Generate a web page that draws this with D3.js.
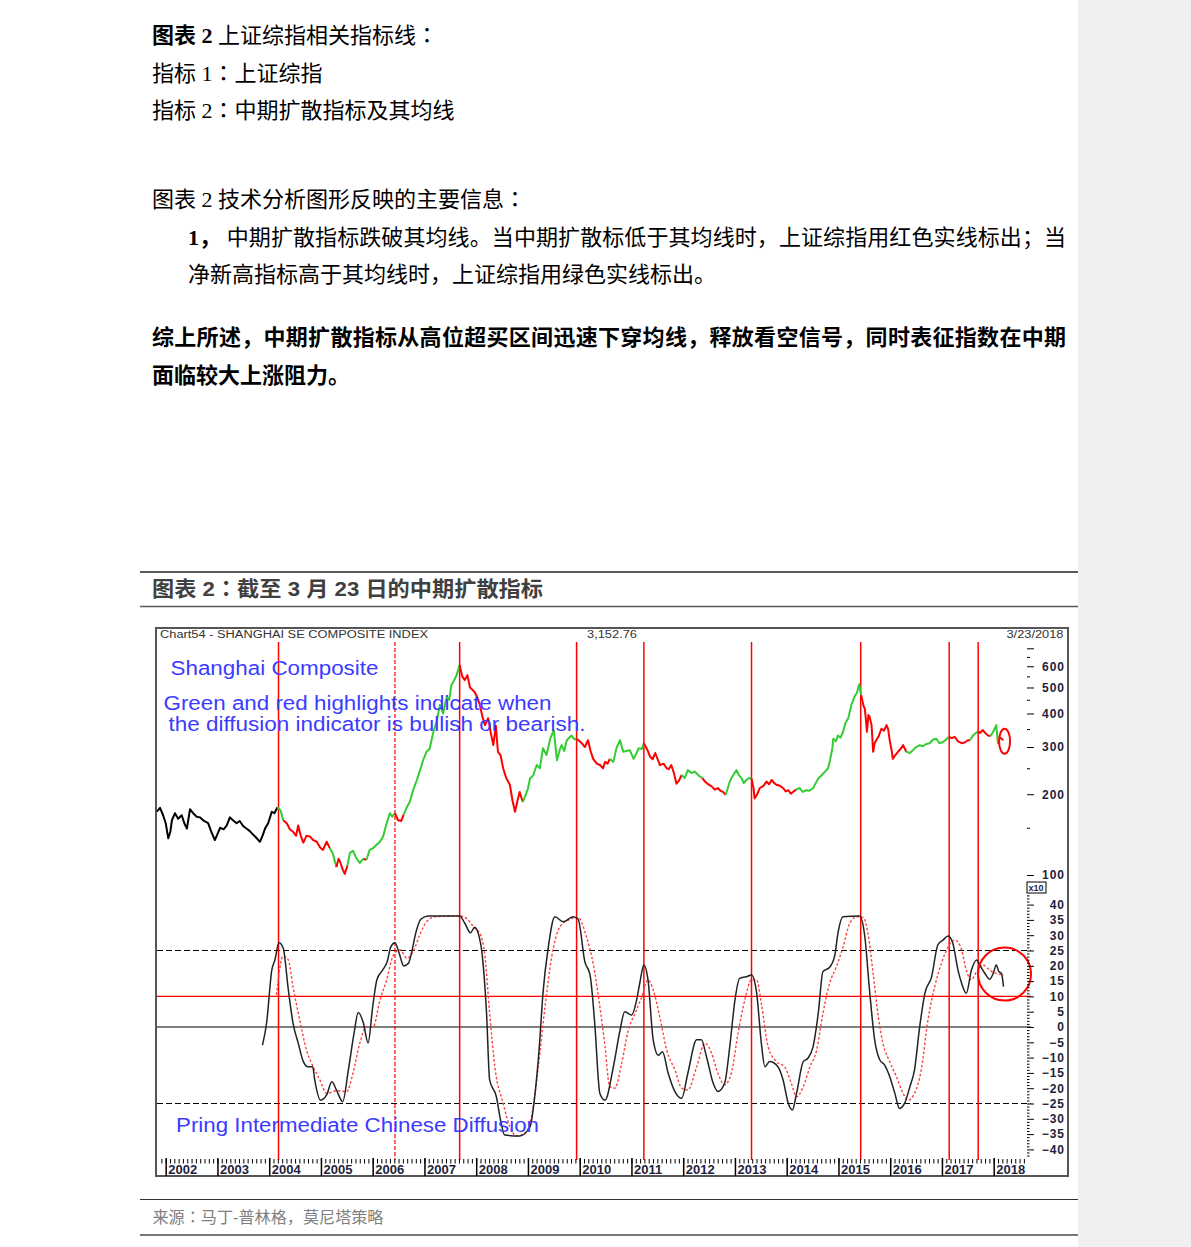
<!DOCTYPE html>
<html><head><meta charset="utf-8">
<script src="https://cdn.jsdelivr.net/npm/d3@7"></script>
<style>
body{margin:0;background:#fff;}
svg{display:block;}
</style></head><body>
<svg id="c" width="1191" height="1247"></svg>
<script>
// ---------------- DATA ----------------
const introTexts = [
  [["图表 2", true], [" 上证综指相关指标线：", false]],
  [["指标 1：上证综指", false]],
  [["指标 2：中期扩散指标及其均线", false]],
  [["图表 2 技术分析图形反映的主要信息：", false]],
  [["1，", true], [" 中期扩散指标跌破其均线。当中期扩散标低于其均线时，上证综指用红色实线标出；当", false]],
  [["净新高指标高于其均线时，上证综指用绿色实线标出。", false]],
  [["综上所述，中期扩散指标从高位超买区间迅速下穿均线，释放看空信号，同时表征指数在中期", true]],
  [["面临较大上涨阻力。", true]]
];
const chartTitle = "图表 2：截至 3 月 23 日的中期扩散指标";
const sourceText = "来源：马丁-普林格，莫尼塔策略";
const headerLeft = "Chart54 - SHANGHAI SE COMPOSITE INDEX";
const headerMid = "3,152.76";
const headerRight = "3/23/2018";
const noteTitle = "Shanghai Composite";
const noteLines = ["Green and red highlights indicate when", " the diffusion indicator is bullish or bearish."];
const lowerTitle = "Pring Intermediate Chinese Diffusion";

// Shanghai Composite (index points), [decimal year, value]
const price = [
[2001.83,1722],[2001.89,1780],[2001.95,1670],[2002.00,1560],[2002.05,1370],[2002.09,1450],[2002.12,1600],[2002.18,1700],
[2002.24,1620],[2002.31,1670],[2002.36,1560],[2002.41,1490],[2002.47,1760],[2002.53,1700],[2002.60,1650],[2002.66,1640],
[2002.74,1590],[2002.82,1560],[2002.88,1450],[2002.95,1350],[2003.00,1420],[2003.05,1500],[2003.12,1480],[2003.18,1530],
[2003.24,1640],[2003.30,1600],[2003.37,1560],[2003.43,1590],[2003.50,1520],[2003.56,1490],[2003.62,1460],[2003.68,1420],
[2003.76,1370],[2003.82,1330],[2003.87,1400],[2003.92,1490],[2003.98,1560],[2004.05,1720],[2004.10,1700],[2004.16,1790],
[2004.22,1740],[2004.27,1600],[2004.34,1560],[2004.40,1480],[2004.46,1450],[2004.52,1400],[2004.56,1530],[2004.61,1400],
[2004.66,1320],[2004.72,1400],[2004.79,1390],[2004.85,1350],[2004.92,1330],[2004.98,1270],[2005.04,1240],[2005.11,1330],
[2005.17,1260],[2005.23,1200],[2005.30,1070],[2005.34,1150],[2005.37,1120],[2005.42,1050],[2005.46,1010],[2005.51,1080],
[2005.56,1210],[2005.62,1230],[2005.68,1160],[2005.75,1110],[2005.82,1150],[2005.88,1140],[2005.94,1240],[2006.01,1260],
[2006.08,1300],[2006.14,1330],[2006.20,1390],[2006.27,1560],[2006.33,1700],[2006.38,1650],[2006.43,1700],[2006.49,1600],
[2006.55,1590],[2006.60,1680],[2006.66,1790],[2006.72,1880],[2006.78,2070],[2006.85,2250],[2006.91,2440],[2006.98,2700],
[2007.04,2880],[2007.10,2950],[2007.17,3400],[2007.23,3700],[2007.30,4310],[2007.36,4000],[2007.43,4620],[2007.48,4500],
[2007.52,5110],[2007.57,5300],[2007.62,5560],[2007.68,6060],[2007.73,5500],[2007.78,5330],[2007.83,5560],[2007.88,5000],
[2007.97,4810],[2008.02,4600],[2008.07,4310],[2008.12,3900],[2008.17,3620],[2008.23,3840],[2008.28,3400],[2008.33,3050],
[2008.38,3600],[2008.42,2880],[2008.47,2800],[2008.52,2500],[2008.58,2300],[2008.65,2170],[2008.70,1900],[2008.75,1720],
[2008.80,1900],[2008.84,2040],[2008.90,1870],[2008.94,1950],[2009.00,2100],[2009.04,2290],[2009.10,2350],[2009.17,2570],
[2009.23,2500],[2009.29,2970],[2009.36,2800],[2009.43,3220],[2009.50,3470],[2009.56,2680],[2009.62,2950],[2009.65,3050],
[2009.70,2900],[2009.75,3180],[2009.84,3310],[2009.90,3200],[2009.94,3220],[2010.00,3150],[2010.04,3100],[2010.10,3000],
[2010.16,3180],[2010.21,2900],[2010.26,2710],[2010.33,2600],[2010.39,2570],[2010.45,2500],[2010.49,2640],[2010.54,2600],
[2010.58,2710],[2010.65,2640],[2010.71,2970],[2010.78,3180],[2010.84,2880],[2010.90,2900],[2010.97,2920],[2011.04,2710],
[2011.10,2850],[2011.14,2970],[2011.20,2950],[2011.24,3100],[2011.30,2950],[2011.36,2760],[2011.41,2700],[2011.46,2850],
[2011.55,2570],[2011.62,2600],[2011.68,2500],[2011.72,2480],[2011.77,2570],[2011.82,2400],[2011.87,2190],[2011.92,2250],
[2011.97,2360],[2012.03,2300],[2012.09,2460],[2012.16,2400],[2012.22,2430],[2012.27,2380],[2012.32,2330],[2012.37,2300],
[2012.42,2230],[2012.48,2180],[2012.55,2140],[2012.61,2080],[2012.67,2110],[2012.72,2060],[2012.77,2040],[2012.82,1990],
[2012.86,2100],[2012.90,2230],[2012.96,2350],[2013.03,2460],[2013.08,2350],[2013.13,2290],[2013.17,2200],[2013.22,2260],
[2013.27,2300],[2013.32,2290],[2013.36,2100],[2013.38,1930],[2013.43,2000],[2013.48,2110],[2013.55,2150],[2013.61,2230],
[2013.66,2180],[2013.71,2260],[2013.76,2200],[2013.80,2170],[2013.87,2150],[2013.93,2110],[2013.98,2050],[2014.03,2070],
[2014.08,2010],[2014.12,2040],[2014.18,2080],[2014.25,2110],[2014.31,2040],[2014.38,2070],[2014.44,2060],[2014.51,2110],
[2014.56,2200],[2014.61,2290],[2014.67,2350],[2014.74,2430],[2014.80,2500],[2014.83,2640],[2014.88,2950],[2014.90,3220],
[2014.95,3150],[2014.99,3310],[2015.04,3250],[2015.09,3420],[2015.14,3700],[2015.19,3840],[2015.25,4310],[2015.31,4620],
[2015.36,4800],[2015.40,5140],[2015.44,4680],[2015.48,4300],[2015.51,4160],[2015.53,3800],[2015.55,3420],[2015.58,3950],
[2015.60,3900],[2015.64,3620],[2015.67,2880],[2015.70,3100],[2015.73,3180],[2015.78,3300],[2015.83,3510],[2015.88,3450],
[2015.93,3620],[2015.96,3500],[2015.99,3180],[2016.03,2900],[2016.05,2710],[2016.10,2800],[2016.15,2880],[2016.20,2950],
[2016.25,3050],[2016.31,2880],[2016.38,2850],[2016.44,2920],[2016.50,3000],[2016.57,3050],[2016.63,3020],[2016.70,3080],
[2016.76,3100],[2016.83,3200],[2016.89,3220],[2016.95,3100],[2017.02,3130],[2017.08,3200],[2017.13,3270],[2017.19,3240],
[2017.25,3270],[2017.31,3150],[2017.38,3100],[2017.44,3120],[2017.50,3180],[2017.54,3180],[2017.60,3310],[2017.65,3380],
[2017.69,3420],[2017.74,3390],[2017.79,3470],[2017.84,3380],[2017.89,3310],[2017.94,3300],[2017.99,3420],[2018.05,3620],
[2018.08,3100],[2018.12,3260],[2018.15,3220],[2018.19,3180]
];

// bullish (g) / bearish (r) periods of the diffusion indicator
const regimes = [
[2004.16,2004.29,"g"],[2004.29,2005.18,"r"],[2005.18,2005.27,"g"],[2005.27,2005.52,"r"],[2005.52,2005.79,"g"],
[2005.79,2005.91,"r"],[2005.91,2006.43,"g"],[2006.43,2006.62,"r"],[2006.62,2007.68,"g"],[2007.68,2008.90,"r"],
[2008.90,2009.94,"g"],[2009.94,2010.58,"r"],[2010.58,2011.24,"g"],[2011.24,2011.96,"r"],[2011.96,2012.38,"g"],
[2012.38,2012.84,"r"],[2012.84,2013.32,"g"],[2013.32,2014.19,"r"],[2014.19,2015.43,"g"],[2015.43,2016.31,"r"],
[2016.31,2017.14,"g"],[2017.14,2017.57,"r"],[2017.57,2017.69,"g"],[2017.69,2017.95,"r"],[2017.95,2018.13,"g"],
[2018.13,2018.30,"r"]
];

// diffusion indicator (black) and its moving average (red dotted)
const indicator = [
[2003.87,-5.9],[2003.95,1.3],[2004.05,18.6],[2004.11,21.9],[2004.19,27.5],[2004.27,25.8],[2004.37,12.1],[2004.46,1.3],
[2004.56,-5.2],[2004.66,-11.3],[2004.75,-13],[2004.84,-13],[2004.88,-17.3],[2004.99,-23.9],[2005.11,-22.2],[2005.21,-17.9],
[2005.30,-20.6],[2005.42,-24.4],[2005.53,-14],[2005.64,-2],[2005.72,4.7],[2005.82,1.3],[2005.91,-5.2],[2006.00,6.6],
[2006.08,15.4],[2006.19,18.6],[2006.28,21.3],[2006.35,26.2],[2006.43,27.5],[2006.51,24.2],[2006.60,19.9],[2006.69,20.8],
[2006.75,24.2],[2006.83,30.6],[2006.93,35.2],[2007.07,36.3],[2007.68,36.3],[2007.78,33.9],[2007.89,30.8],[2007.97,32.6],
[2008.04,30.6],[2008.12,23],[2008.20,4.5],[2008.26,-17.3],[2008.39,-22.8],[2008.47,-30.4],[2008.55,-35.3],[2008.84,-35.6],
[2009.04,-32.6],[2009.13,-22.8],[2009.22,-6.4],[2009.29,11],[2009.39,25.7],[2009.52,36],[2009.68,34.4],[2009.87,36],
[2009.97,35.2],[2010.10,21.3],[2010.20,17],[2010.29,1.3],[2010.39,-21.7],[2010.49,-23.9],[2010.65,-13],[2010.78,-1],
[2010.87,5],[2011.00,3.9],[2011.10,8.8],[2011.16,14.3],[2011.24,20.3],[2011.32,15.4],[2011.42,-4.2],[2011.52,-9.2],
[2011.60,-8.1],[2011.71,-15.1],[2011.84,-21.1],[2011.97,-23.3],[2012.09,-15.1],[2012.26,-4.2],[2012.35,-4.2],[2012.45,-9.7],
[2012.58,-18.4],[2012.67,-21.1],[2012.80,-18.4],[2012.90,-6.4],[2013.00,8.8],[2013.09,15.9],[2013.22,16.4],[2013.32,17],
[2013.42,11],[2013.51,-5.3],[2013.58,-13],[2013.67,-11.3],[2013.83,-13],[2013.93,-17.3],[2014.03,-24.9],[2014.11,-27.1],
[2014.19,-21.7],[2014.32,-11.3],[2014.41,-10.2],[2014.51,-6.4],[2014.61,4.5],[2014.70,18.1],[2014.83,19.5],[2014.93,23.5],
[2014.99,30.6],[2015.09,36],[2015.41,36.3],[2015.51,29.5],[2015.60,12.1],[2015.70,-4.2],[2015.80,-10.8],[2015.89,-12.4],
[2015.99,-16.2],[2016.09,-21.7],[2016.18,-26.6],[2016.28,-24.9],[2016.38,-19.5],[2016.47,-14],[2016.57,0.1],[2016.67,11],
[2016.80,16.4],[2016.92,26.8],[2017.02,28.4],[2017.12,29.7],[2017.21,27.4],[2017.31,18.6],[2017.38,14.3],[2017.47,11],
[2017.57,18.6],[2017.67,21.9],[2017.73,20.3],[2017.83,17.5],[2017.92,15.6],[2017.99,17.5],[2018.05,20.3],[2018.10,18.1],
[2018.15,17.5],[2018.19,13.2]
];
const movingAverage = [
[2004.14,10.5],[2004.27,23.2],[2004.37,21.9],[2004.46,13.2],[2004.59,2.3],[2004.72,-7.5],[2004.85,-13],[2004.98,-17.3],
[2005.11,-21.7],[2005.30,-20.8],[2005.50,-21.1],[2005.62,-15.1],[2005.75,-5.3],[2005.88,0.1],[2006.01,0.1],[2006.14,8.8],
[2006.27,15.4],[2006.40,23.5],[2006.53,25.2],[2006.66,22.5],[2006.78,24.6],[2006.91,30.1],[2007.04,34.4],[2007.20,36],
[2007.68,36.3],[2007.81,35.5],[2007.97,32.3],[2008.07,30.6],[2008.17,23],[2008.26,4.5],[2008.36,-13],[2008.52,-24.9],
[2008.65,-32.6],[2008.78,-35.6],[2008.94,-34.7],[2009.07,-29.3],[2009.20,-13],[2009.33,6.6],[2009.46,23],[2009.62,32.8],
[2009.81,35.2],[2009.97,35.8],[2010.13,29.5],[2010.26,20.8],[2010.39,6.6],[2010.49,-6.4],[2010.58,-19.5],[2010.68,-20],
[2010.81,-11.9],[2010.94,-1],[2011.07,4.5],[2011.19,9.4],[2011.32,15.4],[2011.42,12.1],[2011.56,2.3],[2011.68,-7.5],
[2011.84,-14],[2011.97,-20],[2012.09,-20.6],[2012.26,-13],[2012.42,-5.3],[2012.55,-8.6],[2012.67,-15.1],[2012.80,-18.9],
[2012.93,-15.1],[2013.06,-2],[2013.19,8.8],[2013.32,15.4],[2013.42,15.4],[2013.51,7.7],[2013.64,-6.4],[2013.80,-11.3],
[2013.96,-13],[2014.09,-18.4],[2014.19,-22.8],[2014.32,-19.5],[2014.45,-13],[2014.58,-7.5],[2014.70,4.5],[2014.83,14.3],
[2014.96,19.7],[2015.09,26.2],[2015.22,33.9],[2015.35,36],[2015.48,35.8],[2015.57,30.6],[2015.67,17.5],[2015.77,3.4],
[2015.86,-5.3],[2015.99,-11.3],[2016.12,-16.2],[2016.25,-21.7],[2016.34,-23.9],[2016.47,-21.7],[2016.60,-14],[2016.73,2.3],
[2016.86,13.2],[2016.99,20.8],[2017.12,26.2],[2017.25,28.4],[2017.38,25.2],[2017.47,18.6],[2017.57,15.4],[2017.67,18.1],
[2017.79,20.3],[2017.92,18.6],[2018.05,17.5],[2018.19,17]
];

const signalYears = [2004.18, 2007.68, 2009.94, 2011.24, 2013.32, 2015.43, 2017.14, 2017.70];
const dashedSignalYears = [2006.43];
const yearTicks = d3.range(2002, 2019);
const priceTicks = [1000, 2000, 3000, 4000, 5000, 6000, 7000];
const priceMinorTicks = [1500, 2500, 3500, 4500, 5500, 6500];
const indTicks = d3.range(-40, 45, 5);
const indLevels = [25, 10, 0, -25];
const lastPoint = [2018.21, 3152.76];
const lastIndicator = [2018.21, 17.3];

// ---------------- DRAWING ----------------
const W = 1191, H = 1247;
const svg = d3.select("#c");
const cjkSerif = '"Liberation Serif","Noto Sans CJK SC",serif';
const cjkSans = '"Liberation Sans","Noto Sans CJK SC",sans-serif';
const punctFont = '"Noto Sans CJK TC","Noto Sans CJK SC",sans-serif';
const arial = '"Liberation Sans",Arial,sans-serif';

// append a string to a text node, rendering the full-width colon centred
function appendRich(t, str, bold) {
  const re = /(：)/;
  str.split(re).filter(s => s.length).forEach(s => {
    const ts = t.append("tspan").attr("font-weight", bold ? "bold" : "normal").text(s);
    if (re.test(s)) ts.attr("font-family", punctFont);
  });
}

svg.append("rect").attr("x", 1078).attr("y", 0).attr("width", W - 1078).attr("height", H).attr("fill", "#f0f0f0");

// intro paragraph
const introLayout = [
  {x:152, y:43}, {x:152, y:81}, {x:152, y:118}, {x:152, y:207},
  {x:188, y:245, len:878}, {x:188, y:282}, {x:152, y:345, len:914}, {x:152, y:383}
];
introTexts.forEach((parts, i) => {
  const L = introLayout[i];
  const t = svg.append("text").attr("x", L.x).attr("y", L.y)
    .attr("font-family", cjkSerif).attr("font-size", 22).attr("fill", "#000");
  if (L.len) t.attr("textLength", L.len).attr("lengthAdjust", "spacing");
  parts.forEach(p => appendRich(t, p[0], p[1]));
});

// chart title bar
svg.append("line").attr("x1",140).attr("x2",1078).attr("y1",572).attr("y2",572).attr("stroke","#5a5a5a").attr("stroke-width",2);
svg.append("line").attr("x1",140).attr("x2",1078).attr("y1",606.5).attr("y2",606.5).attr("stroke","#5a5a5a").attr("stroke-width",1.5);
const tt = svg.append("text").attr("x",152).attr("y",596).attr("font-family",cjkSans).attr("font-weight","bold")
  .attr("font-size",21).attr("fill","#404040").attr("textLength",391).attr("lengthAdjust","spacingAndGlyphs");
appendRich(tt, chartTitle, true);

// source
svg.append("line").attr("x1",140).attr("x2",1078).attr("y1",1199.5).attr("y2",1199.5).attr("stroke","#333").attr("stroke-width",1);
svg.append("line").attr("x1",140).attr("x2",1078).attr("y1",1235).attr("y2",1235).attr("stroke","#777").attr("stroke-width",2);
const st = svg.append("text").attr("x",152.5).attr("y",1223).attr("font-family",cjkSans).attr("font-size",16)
  .attr("fill","#808080").attr("textLength",231).attr("lengthAdjust","spacingAndGlyphs");
appendRich(st, sourceText, false);

// chart frame
svg.append("rect").attr("x",156).attr("y",628).attr("width",912).attr("height",548)
  .attr("fill","#fff").attr("stroke","#555").attr("stroke-width",2);

svg.append("text").attr("x",160).attr("y",638).attr("font-family",arial).attr("font-size",10)
  .attr("fill","#333").attr("textLength",268).attr("lengthAdjust","spacingAndGlyphs").text(headerLeft);
svg.append("text").attr("x",587).attr("y",638).attr("font-family",arial).attr("font-size",10)
  .attr("fill","#333").attr("textLength",50).attr("lengthAdjust","spacingAndGlyphs").text(headerMid);
svg.append("text").attr("x",1006.5).attr("y",638).attr("font-family",arial).attr("font-size",10)
  .attr("fill","#333").attr("textLength",57).attr("lengthAdjust","spacingAndGlyphs").text(headerRight);

// scales
const x = d3.scaleLinear().domain([2002, 2018]).range([165.7, 993.7]);
const yP = d3.scaleLog().domain([1000, 7000]).range([875, 648.3]);
const yI = d3.scaleLinear().domain([-40, 40]).range([1149.4, 904.6]);

// indicator levels
indLevels.forEach(v => {
  const l = svg.append("line").attr("x1",157).attr("x2",1031).attr("y1",yI(v)).attr("y2",yI(v));
  if (v === 10) l.attr("stroke","#ff0000").attr("stroke-width",1.2);
  else if (v === 0) l.attr("stroke","#000").attr("stroke-width",1.2);
  else l.attr("stroke","#000").attr("stroke-width",1).attr("stroke-dasharray","6,3");
});

// signal lines
signalYears.forEach(d => svg.append("line").attr("x1",x(d)).attr("x2",x(d)).attr("y1",642).attr("y2",1160)
  .attr("stroke","#ff0000").attr("stroke-width",1.5));
dashedSignalYears.forEach(d => svg.append("line").attr("x1",x(d)).attr("x2",x(d)).attr("y1",642).attr("y2",1160)
  .attr("stroke","#ff0000").attr("stroke-width",1.2).attr("stroke-dasharray","4,2"));

// price line coloured by regime
function regimeColor(t) {
  for (const r of regimes) if (t >= r[0] && t < r[1]) return r[2] === "g" ? "#33cc33" : "#ff0000";
  return "#000";
}
const runs = [];
for (let i = 0; i < price.length - 1; i++) {
  const c = regimeColor((price[i][0] + price[i+1][0]) / 2);
  if (runs.length && runs[runs.length-1].c === c) runs[runs.length-1].pts.push(price[i+1]);
  else runs.push({c, pts:[price[i], price[i+1]]});
}
const priceLine = d3.line().x(d => x(d[0])).y(d => yP(d[1]));
runs.forEach(r => svg.append("path").attr("d", priceLine(r.pts)).attr("fill","none")
  .attr("stroke", r.c).attr("stroke-width", 2).attr("stroke-linejoin","round"));

// indicator and MA
const indLine = d3.line().x(d => x(d[0])).y(d => yI(d[1])).curve(d3.curveMonotoneX);
svg.append("path").attr("d", indLine(movingAverage)).attr("fill","none").attr("stroke","#ff4040")
  .attr("stroke-width",1.4).attr("stroke-dasharray","2.5,2");
svg.append("path").attr("d", indLine(indicator)).attr("fill","none").attr("stroke","#222")
  .attr("stroke-width",1.5);

// annotations
svg.append("ellipse").attr("cx", x(lastPoint[0])).attr("cy", yP(lastPoint[1])).attr("rx",5.5).attr("ry",12.5)
  .attr("fill","none").attr("stroke","#ff0000").attr("stroke-width",2);
svg.append("circle").attr("cx", x(lastIndicator[0])).attr("cy", yI(lastIndicator[1])).attr("r",26.5)
  .attr("fill","none").attr("stroke","#ff0000").attr("stroke-width",2);

const blue = "#3b3bff";
svg.append("text").attr("x",170.5).attr("y",675).attr("font-family",arial).attr("font-size",20).attr("fill",blue)
  .attr("textLength",208).attr("lengthAdjust","spacingAndGlyphs").text(noteTitle);
svg.append("text").attr("x",163.5).attr("y",710).attr("font-family",arial).attr("font-size",20).attr("fill",blue)
  .attr("textLength",388).attr("lengthAdjust","spacingAndGlyphs").text(noteLines[0]);
svg.append("text").attr("x",168.5).attr("y",731).attr("font-family",arial).attr("font-size",20).attr("fill",blue)
  .attr("textLength",417).attr("lengthAdjust","spacingAndGlyphs").text(noteLines[1].trim());
svg.append("text").attr("x",176).attr("y",1132).attr("font-family",arial).attr("font-size",20).attr("fill",blue)
  .attr("textLength",363).attr("lengthAdjust","spacingAndGlyphs").text(lowerTitle);

// axes
const axisColor = "#1e1e3c";
function styleAxis(g) {
  g.select(".domain").remove();
  g.selectAll("line").attr("stroke","#000");
  g.selectAll("text").attr("font-family",arial).attr("font-weight","bold").attr("font-size",12)
    .attr("fill",axisColor);
}
const gP = svg.append("g").attr("transform","translate(1027,0)")
  .call(d3.axisRight(yP).tickValues(priceTicks).tickSize(7).tickFormat(d => d === 7000 ? "" : d / 10));
styleAxis(gP);
gP.selectAll("text").attr("x",38).attr("text-anchor","end").attr("letter-spacing","1px");
const gPm = svg.append("g").attr("transform","translate(1027,0)")
  .call(d3.axisRight(yP).tickValues(priceMinorTicks).tickSize(3).tickFormat(""));
styleAxis(gPm);

const gI = svg.append("g").attr("transform","translate(1027,0)")
  .call(d3.axisRight(yI).tickValues(indTicks).tickSize(7).tickFormat(d3.format("d")));
styleAxis(gI);
gI.selectAll("text").attr("x",38).attr("text-anchor","end").attr("letter-spacing","1px");
const gIm = svg.append("g").attr("transform","translate(1027,0)")
  .call(d3.axisRight(yI).tickValues(d3.range(-42, 44).filter(v => v % 5 !== 0)).tickSize(2.5).tickFormat(""));
styleAxis(gIm);

// x10 box
svg.append("rect").attr("x",1027).attr("y",882).attr("width",19).attr("height",11).attr("fill","#fff").attr("stroke","#000").attr("stroke-width",1);
svg.append("text").attr("x",1028.5).attr("y",891).attr("font-family",arial).attr("font-weight","bold").attr("font-size",9)
  .attr("fill",axisColor).text("x10");

// bottom axis
const monthTicks = d3.range(0, 205).map(i => 2001.75 + i / 12).filter(v => v <= 2018.6 && x(v) > 158);
const gM = svg.append("g").attr("transform","translate(0,1159)")
  .call(d3.axisBottom(x).tickValues(monthTicks).tickSize(4.5).tickFormat(""));
styleAxis(gM);
const gY = svg.append("g").attr("transform","translate(0,1158)")
  .call(d3.axisBottom(x).tickValues(yearTicks).tickSize(18).tickFormat(d3.format("d")));
styleAxis(gY);
gY.selectAll("line").attr("stroke-width",1.5);
gY.selectAll("text").attr("x",2).attr("y",16).attr("dy",null).attr("text-anchor","start").attr("font-size",13);
</script>
</body></html>
